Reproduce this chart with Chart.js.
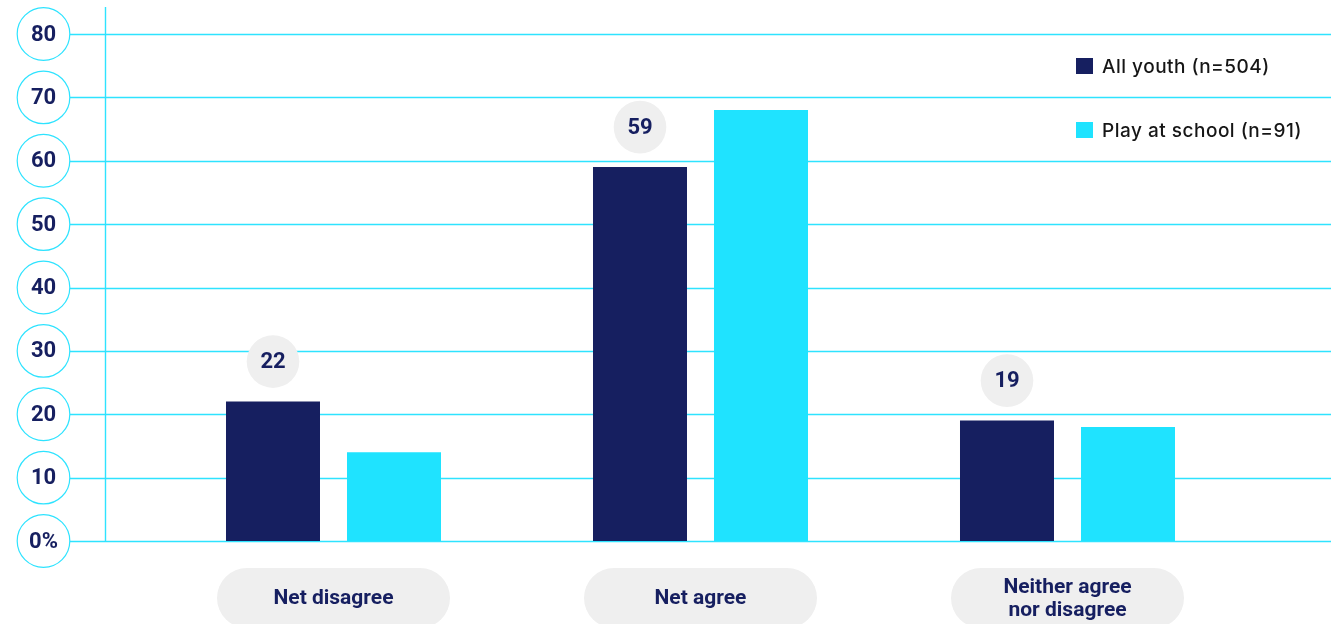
<!DOCTYPE html>
<html>
<head>
<meta charset="utf-8">
<script src="https://cdn.jsdelivr.net/npm/chart.js@4/dist/chart.umd.min.js"></script>
<style>
  html, body { margin: 0; padding: 0; background: #fff; }
</style>
</head>
<body>
<canvas id="chart" width="1331" height="624"></canvas>
<script>
// Chart values
const categories = [['Net disagree'], ['Net agree'], ['Neither agree', 'nor disagree']];
const allYouth = [22, 59, 19];
const playAtSchool = [14, 68, 18];
const seriesNames = ['All youth (n=504)', 'Play at school (n=91)'];
const yTickValues = [0, 10, 20, 30, 40, 50, 60, 70, 80];
const yTickLabels = ['0%', '10', '20', '30', '40', '50', '60', '70', '80'];

const NAVY = '#161f60';
const CYAN = '#1fe3ff';
const GRID = '#2ee3ff';
const BUBBLE = '#efefef';

// Draws the grid, axis line and circled tick labels behind the bars
const backdrop = {
    id: 'backdrop',
    beforeDatasetsDraw(chart) {
        const ctx = chart.ctx;
        const y = chart.scales.y;
        ctx.save();
        ctx.strokeStyle = GRID;
        ctx.lineWidth = 1.4;
        yTickValues.forEach((v) => {
            const py = Math.round(y.getPixelForValue(v)) + 0.5;
            ctx.beginPath();
            ctx.moveTo(70, py);
            ctx.lineTo(chart.width, py);
            ctx.stroke();
        });
        // vertical axis line
        ctx.beginPath();
        ctx.moveTo(105.5, 7);
        ctx.lineTo(105.5, Math.round(y.getPixelForValue(0)) + 0.5);
        ctx.stroke();

        // circled tick labels
        yTickValues.forEach((v, i) => {
            const py = y.getPixelForValue(v);
            ctx.beginPath();
            ctx.arc(43.5, py, 26.3, 0, Math.PI * 2);
            ctx.fillStyle = '#fff';
            ctx.fill();
            ctx.strokeStyle = GRID;
            ctx.lineWidth = 1.2;
            ctx.stroke();
            ctx.fillStyle = NAVY;
            ctx.font = 'bold 22px Roboto';
            ctx.textAlign = 'center';
            ctx.textBaseline = 'middle';
            ctx.fillText(yTickLabels[i], 43.5, py + 1);
        });
        ctx.restore();
    },
    afterDatasetsDraw(chart) {
        const ctx = chart.ctx;
        const x = chart.scales.x;
        ctx.save();
        ctx.textAlign = 'center';
        ctx.textBaseline = 'middle';

        // value bubbles over the first series
        const meta = chart.getDatasetMeta(0);
        meta.data.forEach((bar, i) => {
            const cy = bar.y - 40;
            ctx.beginPath();
            ctx.arc(bar.x, cy, 26.3, 0, Math.PI * 2);
            ctx.fillStyle = BUBBLE;
            ctx.fill();
            ctx.fillStyle = NAVY;
            ctx.font = 'bold 22px Roboto';
            ctx.fillText(String(allYouth[i]), bar.x, cy + 1);
        });

        // category pills
        categories.forEach((lines, i) => {
            const cx = x.getPixelForValue(i);
            ctx.beginPath();
            ctx.roundRect(cx - 116.5, 568, 233, 60, 30);
            ctx.fillStyle = BUBBLE;
            ctx.fill();
            ctx.fillStyle = NAVY;
            ctx.font = 'bold 21px Roboto';
            const lh = 23;
            const start = 598 - (lines.length - 1) * lh / 2;
            lines.forEach((t, k) => ctx.fillText(t, cx, start + k * lh + 1));
        });

        // legend
        ctx.textAlign = 'left';
        ctx.letterSpacing = '0.5px';
        chart.data.datasets.forEach((ds, i) => {
            const ly = 66 + i * 64;
            ctx.fillStyle = ds.backgroundColor;
            ctx.fillRect(1076, ly - 8, 17, 16);
            ctx.fillStyle = '#161616';
            ctx.font = '500 19px Inter';
            ctx.fillText(ds.label, 1102, ly + 1);
        });
        ctx.restore();
    }
};

new Chart(document.getElementById('chart'), {
    type: 'bar',
    data: {
        labels: categories,
        datasets: [
            { label: seriesNames[0], data: allYouth, backgroundColor: NAVY },
            { label: seriesNames[1], data: playAtSchool, backgroundColor: CYAN }
        ]
    },
    options: {
        responsive: false,
        devicePixelRatio: 1,
        animation: false,
        categoryPercentage: 0.6594,
        barPercentage: 0.7769,
        layout: { padding: { left: 150, right: 80, top: 34, bottom: 83 } },
        plugins: { legend: { display: false }, tooltip: { enabled: false } },
        scales: {
            x: { display: false },
            y: { display: false, min: 0, max: 80 }
        }
    },
    plugins: [backdrop]
});
</script>
</body>
</html>
